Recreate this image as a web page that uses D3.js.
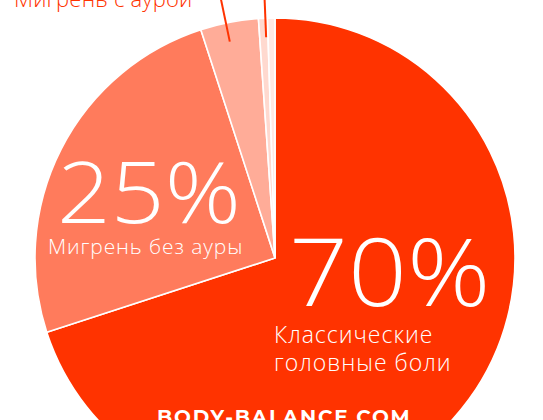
<!DOCTYPE html>
<html>
<head>
<meta charset="utf-8">
<script src="https://cdn.jsdelivr.net/npm/d3@7"></script>
<style>
  html, body { margin: 0; padding: 0; background: #ffffff; overflow: hidden; }
  svg { display: block; }
  .light { font-family: "Open Sans", Lato, sans-serif; font-weight: 300; }
</style>
</head>
<body>
<svg id="chart" width="543" height="420"></svg>
<script>
// ---- data ----
const categories = ["Классические головные боли", "Мигрень без ауры", "Мигрень с аурой", "Другие", "Прочие"];
const values = [70, 25, 3.9, 0.6, 0.5];
const colors = ["#ff3300", "#ff7b5c", "#ffac98", "#ffd9cf", "#ffe9e3"];
const percentLabels = ["70%", "25%"];
const labelLines = [["Классические", "головные боли"], ["Мигрень без ауры"]];
const topLabel = "Мигрень с аурой";
const siteLabel = "BODY-BALANCE.COM";

// ---- layout ----
const W = 543, H = 420;
const cx = 275, cy = 258, R = 240;
const svg = d3.select("#chart");
const g = svg.append("g").attr("transform", `translate(${cx},${cy})`);

const pie = d3.pie().sort(null).value(d => d)(values);
const arc = d3.arc().innerRadius(0).outerRadius(R);

g.selectAll("path.slice")
  .data(pie)
  .join("path")
  .attr("class", "slice")
  .attr("d", arc)
  .attr("fill", (d, i) => colors[i])
  .attr("stroke", "#ffffff")
  .attr("stroke-width", 1.6)
  .attr("stroke-linejoin", "miter");

// leader lines for small slices (radial, going off the top)
const leaderAngle = [348.2, 357.7].map(a => a * Math.PI / 180);
leaderAngle.forEach(ang => {
  const r0 = R - 19, r1 = R + 25;
  g.append("line")
    .attr("x1", r0 * Math.sin(ang)).attr("y1", -r0 * Math.cos(ang))
    .attr("x2", r1 * Math.sin(ang)).attr("y2", -r1 * Math.cos(ang))
    .attr("stroke", "#ff3300").attr("stroke-width", 2);
});

// top label (partly cut off)
svg.append("text").attr("class", "light")
  .attr("x", 14).attr("y", 7)
  .attr("font-size", 22)
  .attr("letter-spacing", 0.2)
  .attr("fill", "#ff3300")
  .text(topLabel);

// 25% label (glyphs widened horizontally)
svg.append("text").attr("class", "light")
  .attr("transform", "translate(57,223) scale(1.11,1)")
  .attr("font-size", 85).attr("fill", "#fff")
  .text(percentLabels[1]);
svg.append("text").attr("class", "light")
  .attr("x", 48).attr("y", 254)
  .attr("font-size", 21).attr("letter-spacing", 0.9).attr("fill", "#fff")
  .text(labelLines[1][0]);

// 70% label
svg.append("text").attr("class", "light")
  .attr("transform", "translate(289,306) scale(1.1,1)")
  .attr("font-size", 94).attr("fill", "#fff")
  .text(percentLabels[0]);
labelLines[0].forEach((t, i) => {
  svg.append("text").attr("class", "light")
    .attr("x", 274).attr("y", 343 + i * 28)
    .attr("font-size", 23).attr("letter-spacing", 1).attr("fill", "#fff")
    .text(t);
});

// site label
svg.append("text")
  .attr("x", 157).attr("y", 424)
  .attr("font-family", "Montserrat, 'DejaVu Sans', sans-serif")
  .attr("font-weight", 700)
  .attr("font-size", 20)
  .attr("letter-spacing", 1.8)
  .attr("fill", "#fff")
  .text(siteLabel);
</script>
</body>
</html>
